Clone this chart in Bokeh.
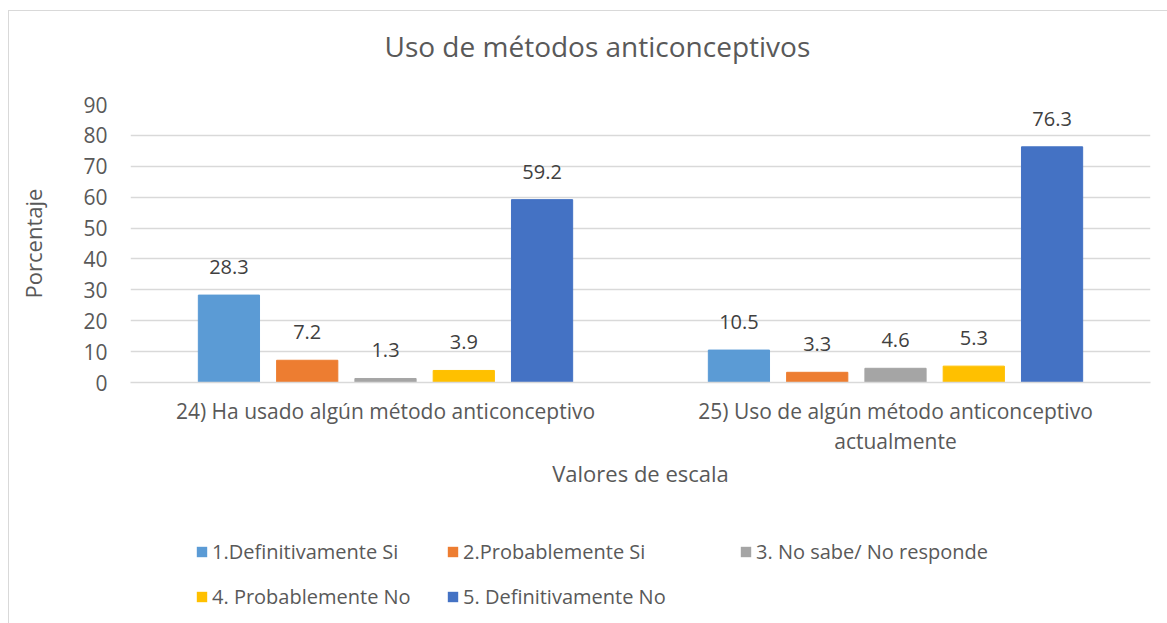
from bokeh.plotting import figure
from bokeh.layouts import column
from bokeh.models import (FactorRange, Range1d, Legend, LegendItem, FixedTicker, Title,
                          ColumnDataSource)
from bokeh.transform import dodge
from bokeh.core.properties import value
from bokeh.embed import file_html
from bokeh.resources import INLINE

categories = ["24) Ha usado algún método anticonceptivo",
              "25) Uso de algún método anticonceptivo\nactualmente"]
series_names = ["1.Definitivamente Si", "2.Probablemente Si", "3. No sabe/ No responde",
                "4. Probablemente No", "5. Definitivamente No"]
s1 = [28.3, 10.5]
s2 = [7.2, 3.3]
s3 = [1.3, 4.6]
s4 = [3.9, 5.3]
s5 = [59.2, 76.3]
series_values = [s1, s2, s3, s4, s5]
colors = ["#5B9BD5", "#ED7D31", "#A5A5A5", "#FFC000", "#4472C4"]
offsets = [-0.307, -0.1535, 0.0, 0.1535, 0.307]
y_ticks = [0, 10, 20, 30, 40, 50, 60, 70, 80, 90]

FONT = "Open Sans"
TXT = "#595959"
BORDER = "1px solid #D9D9D9"

# ---------------- main chart ----------------
p = figure(x_range=FactorRange(factors=categories), y_range=Range1d(0, 90),
           width=1159, height=500, output_backend="svg", toolbar_location=None,
           min_border_left=121, min_border_right=18, min_border_top=93, min_border_bottom=129)
p.margin = (10, 0, 0, 8)
p.styles = {"border-left": BORDER, "border-top": BORDER}
p.outline_line_color = None
p.background_fill_color = "white"
p.border_fill_color = "white"

title = Title(text="Uso de métodos anticonceptivos\n", align="left", offset=254,
              text_font=FONT, text_font_size="28px", text_font_style="normal",
              text_color=TXT, standoff=4)
p.add_layout(title, "above")

sources = []
for name, vals, col, off in zip(series_names, series_values, colors, offsets):
    src = ColumnDataSource(dict(cat=categories, val=vals, lbl=[f"{v:.1f}" for v in vals]))
    sources.append(src)
    p.vbar(x=dodge("cat", off, range=p.x_range), top="val", width=0.12, source=src,
           fill_color=col, line_color=col)
    p.text(x=dodge("cat", off, range=p.x_range), y="val", text="lbl", source=src,
           text_align="center", text_baseline="bottom", y_offset=-21,
           text_font=value(FONT), text_font_size="20px", text_color="#404040")

p.xgrid.grid_line_color = None
p.ygrid.grid_line_color = "#D9D9D9"
p.ygrid.grid_line_width = 1.5
p.yaxis.ticker = FixedTicker(ticks=y_ticks)

for ax in (p.xaxis, p.yaxis):
    ax.axis_line_color = None
    ax.major_tick_line_color = None
    ax.minor_tick_line_color = None
    ax.major_label_text_font = FONT
    ax.major_label_text_font_size = "21px"
    ax.major_label_text_color = TXT
    ax.axis_label_text_font = FONT
    ax.axis_label_text_font_size = "22px"
    ax.axis_label_text_font_style = "normal"
    ax.axis_label_text_color = TXT

p.xaxis.axis_line_color = "#D9D9D9"
p.xaxis.axis_line_width = 1.5
p.yaxis.major_label_standoff = 17
p.xaxis.major_label_standoff = 8
p.xaxis.major_label_text_line_height = 1.1
p.yaxis.axis_label = "Porcentaje"
p.yaxis.axis_label_standoff = 32
p.xaxis.axis_label = "Valores de escala"
p.xaxis.axis_label_standoff = 0

# ---------------- legend strip ----------------
leg = figure(x_range=FactorRange(factors=categories), y_range=Range1d(0, 90),
             width=1159, height=113, output_backend="svg", toolbar_location=None,
             x_axis_location=None, y_axis_location=None, min_border=0)
leg.margin = (0, 0, 0, 8)
leg.styles = {"border-left": BORDER}
leg.outline_line_color = None
leg.xgrid.grid_line_color = None
leg.ygrid.grid_line_color = None
leg.background_fill_color = "white"
leg.border_fill_color = "white"

items = []
for name, src, col, off in zip(series_names, sources, colors, offsets):
    # zero-height, outline-free bars: nothing visible, only provides the legend swatch
    r = leg.vbar(x=dodge("cat", off, range=leg.x_range), top="val", bottom="val", width=0.12,
                 source=src, fill_color=col, line_color=None)
    items.append(LegendItem(label=name, renderers=[r]))

legend_cols = [([items[0], items[3]], (65, 13)),
               ([items[1], items[4]], (316, 13)),
               ([items[2]], (609, 58))]
for its, loc in legend_cols:
    lg = Legend(items=its, location=loc, orientation="vertical",
                label_text_font=FONT, label_text_font_size="20px", label_text_color=TXT,
                glyph_width=13, glyph_height=13, label_standoff=4, spacing=18,
                label_height=20, padding=0, margin=0, border_line_color=None,
                background_fill_alpha=0)
    leg.add_layout(lg, "center")

layout = column(p, leg, spacing=0)
open("out.html", "w").write(file_html(layout, INLINE))
